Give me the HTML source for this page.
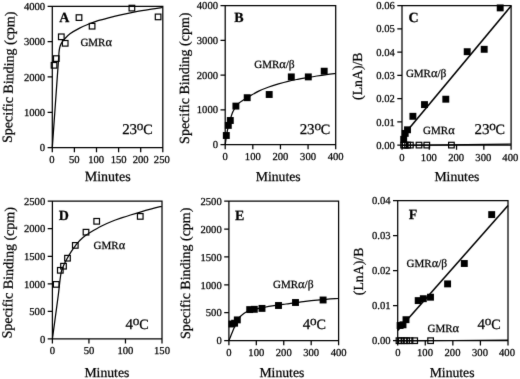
<!DOCTYPE html>
<html lang="en"><head><meta charset="utf-8"><title>Binding kinetics figure</title>
<style>
html,body{margin:0;padding:0;background:#fff;}
body{width:520px;height:379px;overflow:hidden;position:relative;font-family:"Liberation Serif", serif;}
svg{display:block;position:absolute;left:0;top:0;}
text{font-family:"Liberation Serif", serif;fill:#000;stroke:#000;stroke-width:0.25px;text-rendering:geometricPrecision;}
.ax{fill:none;stroke:#000;stroke-width:1.25;}
.cv{fill:none;stroke:#000;stroke-linejoin:round;}
.o{fill:none;stroke:#000;stroke-width:1.2;}
rect{fill:#000;}
.t{font-size:10.6px;}
.l{font-size:14px;}
.b{font-size:14px;font-weight:bold;}
.g{font-size:11px;}
.gk{font-size:11.5px;}
.ga{font-size:12.4px;}
.c{font-size:15px;letter-spacing:-0.2px;}
.deg{font-size:13.2px;}
.cc{font-size:14.2px;}
</style></head><body>
<svg width="520" height="379" viewBox="0 0 520 379">
<defs><filter id="soft" x="0" y="0" width="520" height="379" filterUnits="userSpaceOnUse" color-interpolation-filters="sRGB"><feConvolveMatrix order="3" kernelMatrix="0.01 0.065 0.01 0.065 0.7 0.065 0.01 0.065 0.01" divisor="1" edgeMode="duplicate" preserveAlpha="true"/></filter></defs>
<g filter="url(#soft)">
<rect width="520" height="379" style="fill:#fff"/>
<!-- panel A -->
<path d="M47.60,6.3H162.8V152.30M52.3,6.3V152.30M47.60,147.6H162.8" class="ax"/>
<text x="52.00" y="163.30" text-anchor="middle" class="t">0</text>
<text x="74.20" y="163.30" text-anchor="middle" class="t">50</text>
<text x="96.20" y="163.30" text-anchor="middle" class="t">100</text>
<text x="118.60" y="163.30" text-anchor="middle" class="t">150</text>
<text x="140.60" y="163.30" text-anchor="middle" class="t">200</text>
<text x="161.80" y="163.30" text-anchor="middle" class="t">250</text>
<text x="45.10" y="151.30" text-anchor="end" class="t">0</text>
<text x="45.10" y="115.98" text-anchor="end" class="t">1000</text>
<text x="45.10" y="80.65" text-anchor="end" class="t">2000</text>
<text x="45.10" y="45.33" text-anchor="end" class="t">3000</text>
<text x="45.10" y="10.00" text-anchor="end" class="t">4000</text>
<path d="M74.40,147.6v4.7M96.50,147.6v4.7M118.60,147.6v4.7M140.70,147.6v4.7M52.3,112.28h-4.7M52.3,76.95h-4.7M52.3,41.63h-4.7" class="ax"/>
<path d="M52.30,147.60C52.82,140.30 54.37,118.40 55.40,103.80C56.43,89.20 57.90,68.55 58.50,60.00C59.10,51.45 58.80,54.57 59.00,52.50C59.20,50.43 59.33,49.08 59.70,47.60C60.07,46.12 60.43,44.98 61.20,43.60C61.97,42.22 62.83,40.93 64.30,39.30C65.77,37.67 67.45,35.67 70.00,33.80C72.55,31.93 76.40,29.75 79.60,28.10C82.80,26.45 86.13,25.13 89.20,23.90C92.27,22.67 94.78,21.72 98.00,20.70C101.22,19.68 104.70,18.78 108.50,17.80C112.30,16.82 116.18,15.83 120.80,14.80C125.42,13.77 131.08,12.55 136.20,11.60C141.32,10.65 147.10,9.78 151.50,9.10C155.90,8.42 160.75,7.77 162.60,7.50" class="cv" stroke-width="1.25"/>
<g>
<rect x="51.25" y="62.50" width="5.6" height="5.6" class="o"/>
<rect x="53.50" y="55.80" width="5.6" height="5.6" class="o"/>
<rect x="58.50" y="34.00" width="5.6" height="5.6" class="o"/>
<rect x="62.40" y="40.50" width="5.6" height="5.6" class="o"/>
<rect x="76.20" y="14.80" width="5.6" height="5.6" class="o"/>
<rect x="89.30" y="23.40" width="5.6" height="5.6" class="o"/>
<rect x="129.10" y="5.30" width="5.6" height="5.6" class="o"/>
<rect x="155.30" y="14.10" width="5.6" height="5.6" class="o"/>
</g>
<text transform="translate(13.2,77.3) rotate(-88.8)" text-anchor="middle" class="l">Specific Binding (cpm)</text>
<text x="107.7" y="181.1" text-anchor="middle" class="l">Minutes</text>
<text x="59.2" y="22.2" class="b">A</text>
<text x="80.4" y="45.6" class="g">GMR<tspan class="ga">&#945;</tspan></text>
<text x="122.2" y="134.1" class="c">23<tspan dy="-4.5" class="deg">o</tspan><tspan dy="4.5" class="cc">C</tspan></text>
<!-- panel B -->
<path d="M220.50,5.5H335.7V149.20M225.2,5.5V149.20M220.50,144.5H335.7" class="ax"/>
<text x="225.20" y="159.90" text-anchor="middle" class="t">0</text>
<text x="252.82" y="159.90" text-anchor="middle" class="t">100</text>
<text x="280.45" y="159.90" text-anchor="middle" class="t">200</text>
<text x="308.07" y="159.90" text-anchor="middle" class="t">300</text>
<text x="335.70" y="159.90" text-anchor="middle" class="t">400</text>
<text x="218.00" y="148.20" text-anchor="end" class="t">0</text>
<text x="218.00" y="113.45" text-anchor="end" class="t">1000</text>
<text x="218.00" y="78.70" text-anchor="end" class="t">2000</text>
<text x="218.00" y="43.95" text-anchor="end" class="t">3000</text>
<text x="218.00" y="9.20" text-anchor="end" class="t">4000</text>
<path d="M252.82,144.5v4.7M280.45,144.5v4.7M308.07,144.5v4.7M225.2,109.75h-4.7M225.2,75.00h-4.7M225.2,40.25h-4.7" class="ax"/>
<path d="M225.20,144.50C225.55,142.27 226.57,134.90 227.30,131.10C228.03,127.30 228.65,124.97 229.60,121.70C230.55,118.43 231.67,114.40 233.00,111.50C234.33,108.60 235.93,106.17 237.60,104.30C239.27,102.43 241.00,101.65 243.00,100.30C245.00,98.95 246.90,97.77 249.60,96.20C252.30,94.63 256.00,92.43 259.20,90.90C262.40,89.37 265.58,88.17 268.80,87.00C272.02,85.83 275.30,84.85 278.50,83.90C281.70,82.95 284.80,82.07 288.00,81.30C291.20,80.53 294.48,79.92 297.70,79.30C300.92,78.68 304.10,78.15 307.30,77.60C310.50,77.05 313.70,76.50 316.90,76.00C320.10,75.50 323.38,75.02 326.50,74.60C329.62,74.18 334.08,73.68 335.60,73.50" class="cv" stroke-width="1.25"/>
<g>
<rect x="222.85" y="132.05" width="6.9" height="6.9"/>
<rect x="224.85" y="121.95" width="6.9" height="6.9"/>
<rect x="226.85" y="117.05" width="6.9" height="6.9"/>
<rect x="232.45" y="102.65" width="6.9" height="6.9"/>
<rect x="243.75" y="94.25" width="6.9" height="6.9"/>
<rect x="265.75" y="91.05" width="6.9" height="6.9"/>
<rect x="287.85" y="73.45" width="6.9" height="6.9"/>
<rect x="304.85" y="73.45" width="6.9" height="6.9"/>
<rect x="320.75" y="67.75" width="6.9" height="6.9"/>
</g>
<text transform="translate(188.9,78.2) rotate(-90)" text-anchor="middle" class="l">Specific Binding (cpm)</text>
<text x="278.2" y="181.1" text-anchor="middle" class="l" style="font-size:13.7px">Minutes</text>
<text x="234.2" y="22" class="b">B</text>
<text x="254.2" y="68.3" class="g">GMR<tspan class="ga">&#945;</tspan>/<tspan class="gk">&#946;</tspan></text>
<text x="299.8" y="134.1" class="c">23<tspan dy="-4.5" class="deg">o</tspan><tspan dy="4.5" class="cc">C</tspan></text>
<!-- panel C -->
<path d="M397.30,5.5H511.1V149.80M402,5.5V149.80M397.30,145.1H511.1" class="ax"/>
<text x="401.80" y="160.50" text-anchor="middle" class="t">0</text>
<text x="428.80" y="160.50" text-anchor="middle" class="t">100</text>
<text x="456.20" y="160.50" text-anchor="middle" class="t">200</text>
<text x="483.30" y="160.50" text-anchor="middle" class="t">300</text>
<text x="510.30" y="160.50" text-anchor="middle" class="t">400</text>
<text x="394.80" y="148.80" text-anchor="end" class="t">0.00</text>
<text x="394.80" y="125.53" text-anchor="end" class="t">0.01</text>
<text x="394.80" y="102.27" text-anchor="end" class="t">0.02</text>
<text x="394.80" y="79.00" text-anchor="end" class="t">0.03</text>
<text x="394.80" y="55.73" text-anchor="end" class="t">0.04</text>
<text x="394.80" y="32.47" text-anchor="end" class="t">0.05</text>
<text x="394.80" y="9.20" text-anchor="end" class="t">0.06</text>
<path d="M429.27,145.1v4.7M456.55,145.1v4.7M483.83,145.1v4.7M402,121.83h-4.7M402,98.57h-4.7M402,75.30h-4.7M402,52.03h-4.7M402,28.77h-4.7" class="ax"/>
<path d="M402,136.9L511.1,5.9" class="cv" stroke-width="1.55"/>
<path d="M402,145.4L511.1,144.0" class="cv" stroke-width="1.2"/>
<g>
<rect x="400.25" y="135.85" width="6.9" height="6.9"/>
<rect x="401.75" y="129.95" width="6.9" height="6.9"/>
<rect x="404.05" y="126.35" width="6.9" height="6.9"/>
<rect x="409.45" y="112.85" width="6.9" height="6.9"/>
<rect x="421.05" y="101.15" width="6.9" height="6.9"/>
<rect x="442.35" y="95.75" width="6.9" height="6.9"/>
<rect x="463.75" y="48.25" width="6.9" height="6.9"/>
<rect x="480.75" y="45.85" width="6.9" height="6.9"/>
<rect x="496.75" y="4.45" width="6.9" height="6.9"/>
</g><g>
<rect x="400.80" y="142.30" width="5.6" height="5.6" class="o"/>
<rect x="402.40" y="142.30" width="5.6" height="5.6" class="o"/>
<rect x="404.80" y="142.30" width="5.6" height="5.6" class="o"/>
<rect x="407.60" y="142.30" width="5.6" height="5.6" class="o"/>
<rect x="416.20" y="142.30" width="5.6" height="5.6" class="o"/>
<rect x="424.00" y="142.30" width="5.6" height="5.6" class="o"/>
<rect x="448.60" y="142.30" width="5.6" height="5.6" class="o"/>
</g>
<text transform="translate(362.3,76.2) rotate(-90)" text-anchor="middle" class="l" style="font-size:13.8px">(LnA)/B</text>
<text x="456.9" y="180.8" text-anchor="middle" class="l" style="font-size:13.7px">Minutes</text>
<text x="408.4" y="22" class="b">C</text>
<text x="405.9" y="76.8" class="g">GMR<tspan class="ga">&#945;</tspan>/<tspan class="gk">&#946;</tspan></text>
<text x="423.1" y="134" class="g">GMR<tspan class="ga">&#945;</tspan></text>
<text x="474.6" y="134" class="c">23<tspan dy="-4.5" class="deg">o</tspan><tspan dy="4.5" class="cc">C</tspan></text>
<!-- panel D -->
<path d="M47.70,201.2H162V343.60M52.4,201.2V343.60M47.70,338.9H162" class="ax"/>
<text x="52.40" y="354.10" text-anchor="middle" class="t">0</text>
<text x="88.93" y="354.10" text-anchor="middle" class="t">50</text>
<text x="125.47" y="354.10" text-anchor="middle" class="t">100</text>
<text x="162.00" y="354.10" text-anchor="middle" class="t">150</text>
<text x="45.20" y="342.60" text-anchor="end" class="t">0</text>
<text x="45.20" y="315.06" text-anchor="end" class="t">500</text>
<text x="45.20" y="287.52" text-anchor="end" class="t">1000</text>
<text x="45.20" y="259.98" text-anchor="end" class="t">1500</text>
<text x="45.20" y="232.44" text-anchor="end" class="t">2000</text>
<text x="45.20" y="204.90" text-anchor="end" class="t">2500</text>
<path d="M88.93,338.9v4.7M125.47,338.9v4.7M52.4,311.36h-4.7M52.4,283.82h-4.7M52.4,256.28h-4.7M52.4,228.74h-4.7" class="ax"/>
<path d="M52.40,338.90C52.89,335.25 54.37,324.32 55.35,317.00C56.33,309.68 57.54,301.02 58.30,295.00C59.06,288.98 59.38,284.83 59.90,280.90C60.42,276.97 60.75,274.03 61.40,271.40C62.05,268.77 62.87,267.22 63.80,265.10C64.73,262.98 65.68,261.08 67.00,258.70C68.32,256.32 70.25,253.03 71.70,250.80C73.15,248.57 74.32,247.07 75.70,245.30C77.08,243.53 78.32,241.87 80.00,240.20C81.68,238.53 84.05,236.63 85.80,235.30C87.55,233.97 87.95,233.72 90.50,232.20C93.05,230.68 97.58,227.98 101.10,226.20C104.62,224.42 108.08,222.92 111.60,221.50C115.12,220.08 119.05,218.78 122.20,217.70C125.35,216.62 127.35,215.98 130.50,215.00C133.65,214.02 137.58,212.82 141.10,211.80C144.62,210.78 148.17,209.82 151.60,208.90C155.03,207.98 160.02,206.73 161.70,206.30" class="cv" stroke-width="1.25"/>
<g>
<rect x="53.40" y="281.60" width="5.6" height="5.6" class="o"/>
<rect x="57.50" y="267.50" width="5.6" height="5.6" class="o"/>
<rect x="60.70" y="263.40" width="5.6" height="5.6" class="o"/>
<rect x="64.70" y="255.40" width="5.6" height="5.6" class="o"/>
<rect x="72.50" y="242.60" width="5.6" height="5.6" class="o"/>
<rect x="83.20" y="229.40" width="5.6" height="5.6" class="o"/>
<rect x="93.90" y="218.50" width="5.6" height="5.6" class="o"/>
<rect x="137.45" y="213.60" width="5.6" height="5.6" class="o"/>
</g>
<text transform="translate(13.0,272.9) rotate(-88.8)" text-anchor="middle" class="l">Specific Binding (cpm)</text>
<text x="106.9" y="376.5" text-anchor="middle" class="l" style="font-size:13.7px">Minutes</text>
<text x="58.7" y="219.8" class="b">D</text>
<text x="93.6" y="249.1" class="g">GMR<tspan class="ga">&#945;</tspan></text>
<text x="125.5" y="329.2" class="c">4<tspan dy="-4.5" class="deg">o</tspan><tspan dy="4.5" class="cc">C</tspan></text>
<!-- panel E -->
<path d="M224.20,201.2H338.6V345.30M228.9,201.2V345.30M224.20,340.6H338.6" class="ax"/>
<text x="228.90" y="355.90" text-anchor="middle" class="t">0</text>
<text x="256.32" y="355.90" text-anchor="middle" class="t">100</text>
<text x="283.75" y="355.90" text-anchor="middle" class="t">200</text>
<text x="311.18" y="355.90" text-anchor="middle" class="t">300</text>
<text x="338.60" y="355.90" text-anchor="middle" class="t">400</text>
<text x="221.70" y="344.30" text-anchor="end" class="t">0</text>
<text x="221.70" y="316.42" text-anchor="end" class="t">500</text>
<text x="221.70" y="288.54" text-anchor="end" class="t">1000</text>
<text x="221.70" y="260.66" text-anchor="end" class="t">1500</text>
<text x="221.70" y="232.78" text-anchor="end" class="t">2000</text>
<text x="221.70" y="204.90" text-anchor="end" class="t">2500</text>
<path d="M256.32,340.6v4.7M283.75,340.6v4.7M311.18,340.6v4.7M228.9,312.72h-4.7M228.9,284.84h-4.7M228.9,256.96h-4.7M228.9,229.08h-4.7" class="ax"/>
<path d="M228.90,340.60C229.38,339.43 230.80,335.92 231.75,333.60C232.70,331.28 233.47,329.18 234.60,326.70C235.72,324.22 236.97,320.90 238.50,318.70C240.03,316.50 241.82,314.92 243.80,313.50C245.78,312.08 247.10,311.20 250.40,310.20C253.70,309.20 259.67,308.25 263.60,307.50C267.53,306.75 270.27,306.28 274.00,305.70C277.73,305.12 281.08,304.68 286.00,304.00C290.92,303.32 297.83,302.28 303.50,301.60C309.17,300.92 314.20,300.42 320.00,299.90C325.80,299.38 335.25,298.73 338.30,298.50" class="cv" stroke-width="1.25"/>
<g>
<rect x="228.45" y="320.55" width="6.9" height="6.9"/>
<rect x="231.15" y="319.75" width="6.9" height="6.9"/>
<rect x="233.85" y="316.45" width="6.9" height="6.9"/>
<rect x="246.25" y="306.15" width="6.9" height="6.9"/>
<rect x="250.85" y="305.85" width="6.9" height="6.9"/>
<rect x="258.55" y="304.95" width="6.9" height="6.9"/>
<rect x="275.05" y="302.05" width="6.9" height="6.9"/>
<rect x="292.05" y="299.05" width="6.9" height="6.9"/>
<rect x="319.65" y="296.55" width="6.9" height="6.9"/>
</g>
<text transform="translate(189.8,273.3) rotate(-90)" text-anchor="middle" class="l">Specific Binding (cpm)</text>
<text x="281.9" y="377.2" text-anchor="middle" class="l" style="font-size:13.7px">Minutes</text>
<text x="235" y="220.3" class="b">E</text>
<text x="273" y="288.2" class="g">GMR<tspan class="ga">&#945;</tspan>/<tspan class="gk">&#946;</tspan></text>
<text x="302.8" y="329.4" class="c">4<tspan dy="-4.5" class="deg">o</tspan><tspan dy="4.5" class="cc">C</tspan></text>
<!-- panel F -->
<path d="M393.00,200.7H508V345.40M397.7,200.7V345.40M393.00,340.7H508" class="ax"/>
<text x="398.00" y="355.80" text-anchor="middle" class="t">0</text>
<text x="425.00" y="355.80" text-anchor="middle" class="t">100</text>
<text x="452.50" y="355.80" text-anchor="middle" class="t">200</text>
<text x="480.00" y="355.80" text-anchor="middle" class="t">300</text>
<text x="507.00" y="355.80" text-anchor="middle" class="t">400</text>
<text x="390.50" y="344.40" text-anchor="end" class="t">0.00</text>
<text x="390.50" y="309.40" text-anchor="end" class="t">0.01</text>
<text x="390.50" y="274.40" text-anchor="end" class="t">0.02</text>
<text x="390.50" y="239.40" text-anchor="end" class="t">0.03</text>
<text x="390.50" y="204.40" text-anchor="end" class="t">0.04</text>
<path d="M425.27,340.7v4.7M452.85,340.7v4.7M480.42,340.7v4.7M397.7,305.70h-4.7M397.7,270.70h-4.7M397.7,235.70h-4.7" class="ax"/>
<path d="M397.7,330.5L508,205.6" class="cv" stroke-width="1.55"/>
<path d="M397.7,341.0L508,340.0" class="cv" stroke-width="1.2"/>
<g>
<rect x="396.65" y="322.05" width="6.9" height="6.9"/>
<rect x="399.55" y="321.35" width="6.9" height="6.9"/>
<rect x="402.55" y="316.25" width="6.9" height="6.9"/>
<rect x="414.75" y="297.15" width="6.9" height="6.9"/>
<rect x="419.85" y="295.25" width="6.9" height="6.9"/>
<rect x="427.05" y="293.75" width="6.9" height="6.9"/>
<rect x="444.15" y="280.45" width="6.9" height="6.9"/>
<rect x="460.85" y="260.05" width="6.9" height="6.9"/>
<rect x="488.25" y="211.15" width="6.9" height="6.9"/>
</g><g>
<rect x="396.20" y="337.90" width="5.6" height="5.6" class="o"/>
<rect x="398.50" y="337.90" width="5.6" height="5.6" class="o"/>
<rect x="401.20" y="337.90" width="5.6" height="5.6" class="o"/>
<rect x="403.80" y="337.90" width="5.6" height="5.6" class="o"/>
<rect x="407.20" y="337.90" width="5.6" height="5.6" class="o"/>
<rect x="411.90" y="337.90" width="5.6" height="5.6" class="o"/>
<rect x="427.80" y="337.90" width="5.6" height="5.6" class="o"/>
</g>
<text transform="translate(362.5,271.4) rotate(-90)" text-anchor="middle" class="l" style="font-size:13.8px">(LnA)/B</text>
<text x="452.1" y="377.2" text-anchor="middle" class="l" style="font-size:13.7px">Minutes</text>
<text x="408.7" y="219.4" class="b">F</text>
<text x="406.6" y="267.1" class="g">GMR<tspan class="ga">&#945;</tspan>/<tspan class="gk">&#946;</tspan></text>
<text x="427.5" y="331.6" class="g">GMR<tspan class="ga">&#945;</tspan></text>
<text x="477.5" y="329.2" class="c">4<tspan dy="-4.5" class="deg">o</tspan><tspan dy="4.5" class="cc">C</tspan></text>
</g>
</svg>
</body></html>
